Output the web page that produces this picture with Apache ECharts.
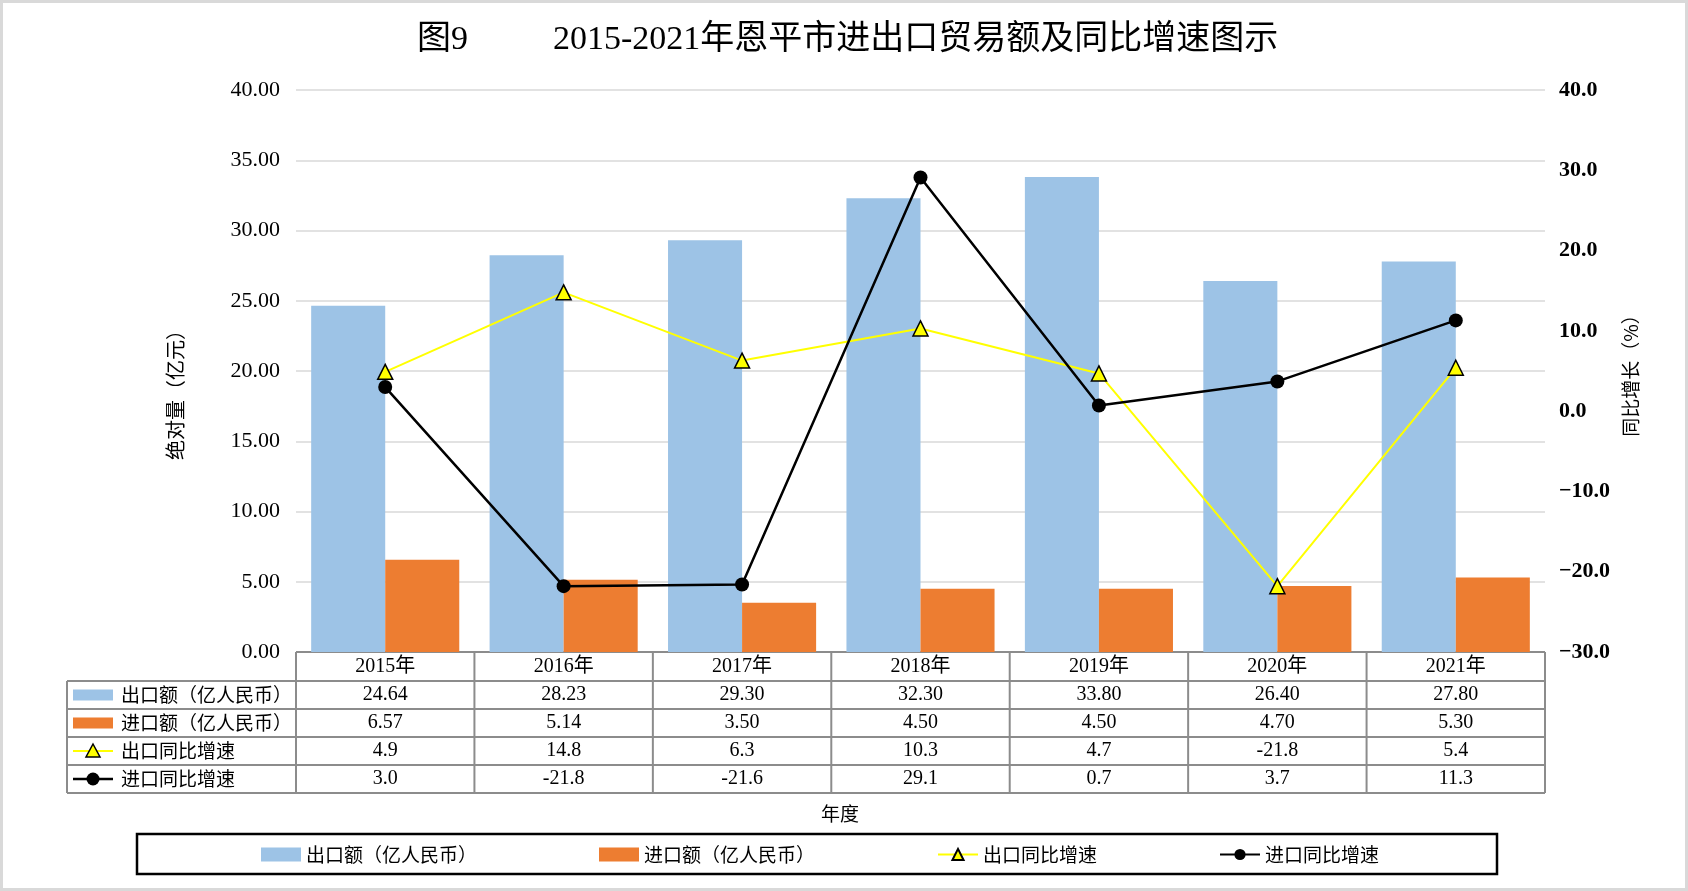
<!DOCTYPE html>
<html>
<head>
<meta charset="utf-8">
<title>2015-2021年恩平市进出口贸易额及同比增速图示</title>
<script src="https://cdn.jsdelivr.net/npm/echarts@6/dist/echarts.min.js"></script>
<style>
  html, body { margin: 0; padding: 0; background: #fff; }
  #main { width: 1688px; height: 891px; }
</style>
</head>
<body>
<div id="main"></div>
<script>
// data
var years = ['2015年', '2016年', '2017年', '2018年', '2019年', '2020年', '2021年'];
var exportAmount = [24.64, 28.23, 29.30, 32.30, 33.80, 26.40, 27.80];
var importAmount = [6.57, 5.14, 3.50, 4.50, 4.50, 4.70, 5.30];
var exportGrowth = [4.9, 14.8, 6.3, 10.3, 4.7, -21.8, 5.4];
var importGrowth = [3.0, -21.8, -21.6, 29.1, 0.7, 3.7, 11.3];
var seriesNames = ['出口额（亿人民币）', '进口额（亿人民币）', '出口同比增速', '进口同比增速'];

var BLUE = '#9DC3E6', ORANGE = '#ED7D31', YELLOW = '#FFFF00', BLACK = '#000000';
var CJK = '"Noto Sans CJK SC"';
var NUM = '"Liberation Serif", "Noto Sans CJK SC"';
var TABLE_LINE = '#8c8c8c';

var chart = echarts.init(document.getElementById('main'));

var option = {
  backgroundColor: '#fff',
  animation: false,
  title: [
    { text: '图9', left: 412, top: 18, textStyle: { fontFamily: NUM, fontSize: 34, fontWeight: 'normal', color: '#000' } },
    { text: '2015-2021年恩平市进出口贸易额及同比增速图示', left: 548, top: 18, textStyle: { fontFamily: NUM, fontSize: 34, fontWeight: 'normal', color: '#000' } }
  ],
  grid: { left: 296, right: 143, top: 90, bottom: 239 },
  legend: {
    left: 256,
    top: 840,
    itemGap: 122,
    itemWidth: 40,
    itemHeight: 14,
    textStyle: { fontFamily: CJK, fontSize: 19, color: '#000' },
    data: [
      { name: seriesNames[0], icon: 'rect' },
      { name: seriesNames[1], icon: 'rect' },
      { name: seriesNames[2] },
      { name: seriesNames[3] }
    ]
  },
  xAxis: {
    type: 'category',
    data: years,
    axisLine: { show: false },
    axisTick: { show: false },
    axisLabel: { show: false }
  },
  yAxis: [
    {
      type: 'value',
      min: 0, max: 40, interval: 5,
      name: '绝对量（亿元）',
      nameLocation: 'middle',
      nameRotate: 90,
      nameGap: 111,
      nameTextStyle: { fontFamily: CJK, fontSize: 20, color: '#000', padding: [0, 38, 0, 0] },
      axisLine: { show: false },
      axisTick: { show: false },
      axisLabel: {
        margin: 16,
        fontFamily: NUM, fontSize: 22, color: '#000',
        formatter: function (v) { return v.toFixed(2); }
      },
      splitLine: { lineStyle: { color: '#d9d9d9', width: 1.5 } }
    },
    {
      type: 'value',
      min: -30, max: 40, interval: 10,
      alignTicks: false,
      name: '同比增长（%）',
      nameLocation: 'middle',
      nameRotate: 90,
      nameGap: 76,
      nameTextStyle: { fontFamily: CJK, fontSize: 19, color: '#000' },
      axisLine: { show: false },
      axisTick: { show: false },
      axisLabel: {
        margin: 14,
        fontFamily: NUM, fontSize: 22, fontWeight: 'bold', color: '#000',
        formatter: function (v) { return v.toFixed(1).replace('-', '−'); }
      },
      splitLine: { show: false }
    }
  ],
  series: [
    {
      name: seriesNames[0], type: 'bar', data: exportAmount,
      barGap: 0, barCategoryGap: '17%',
      itemStyle: { color: BLUE }
    },
    {
      name: seriesNames[1], type: 'bar', data: importAmount,
      barGap: 0, barCategoryGap: '17%',
      itemStyle: { color: ORANGE }
    },
    {
      name: seriesNames[2], type: 'line', yAxisIndex: 1, data: exportGrowth,
      symbol: 'triangle', symbolSize: 15,
      lineStyle: { color: YELLOW, width: 2 },
      itemStyle: { color: YELLOW, borderColor: BLACK, borderWidth: 1.5 },
      z: 5
    },
    {
      name: seriesNames[3], type: 'line', yAxisIndex: 1, data: importGrowth,
      symbol: 'circle', symbolSize: 14,
      lineStyle: { color: BLACK, width: 2.5 },
      itemStyle: { color: BLACK },
      z: 6
    }
  ]
};

chart.setOption(option);

// data table under the plot, laid out from the category axis
function buildTable() {
  var p0 = chart.convertToPixel({ xAxisIndex: 0 }, years[0]);
  var p1 = chart.convertToPixel({ xAxisIndex: 0 }, years[1]);
  var step = p1 - p0;
  var left = p0 - step / 2;
  var right = left + step * years.length;
  var top = chart.convertToPixel({ yAxisIndex: 0 }, 0);
  var labelLeft = 67;
  var rowY = [top, top + 29];
  for (var r = 0; r < 4; r++) rowY.push(rowY[rowY.length - 1] + 28);
  var bottom = rowY[rowY.length - 1];

  var els = [];
  function hline(x1, x2, y) {
    els.push({ type: 'line', shape: { x1: x1, y1: y, x2: x2, y2: y }, style: { stroke: TABLE_LINE, lineWidth: 2 } });
  }
  function vline(x, y1, y2) {
    els.push({ type: 'line', shape: { x1: x, y1: y1, x2: x, y2: y2 }, style: { stroke: TABLE_LINE, lineWidth: 2 } });
  }
  function text(t, x, y, align, font, size) {
    els.push({ type: 'text', x: x, y: y, style: { text: t, align: align, verticalAlign: 'middle', fontFamily: font, fontSize: size, fill: '#000' } });
  }

  hline(left, right, rowY[0]);
  for (var i = 1; i < rowY.length; i++) hline(labelLeft, right, rowY[i]);
  vline(labelLeft, rowY[1], bottom);
  for (var c = 0; c <= years.length; c++) vline(left + c * step, rowY[0], bottom);

  var rows = [
    exportAmount.map(function (v) { return v.toFixed(2); }),
    importAmount.map(function (v) { return v.toFixed(2); }),
    exportGrowth.map(function (v) { return v.toFixed(1); }),
    importGrowth.map(function (v) { return v.toFixed(1); })
  ];

  years.forEach(function (y, k) {
    var cx = chart.convertToPixel({ xAxisIndex: 0 }, y);
    text(y, cx, (rowY[0] + rowY[1]) / 2, 'center', NUM, 20);
    rows.forEach(function (row, j) {
      text(row[k], cx, (rowY[j + 1] + rowY[j + 2]) / 2, 'center', NUM, 20);
    });
  });

  rows.forEach(function (row, j) {
    var cy = (rowY[j + 1] + rowY[j + 2]) / 2;
    if (j === 0 || j === 1) {
      els.push({ type: 'rect', shape: { x: 73, y: cy - 5.5, width: 40, height: 11 }, style: { fill: j === 0 ? BLUE : ORANGE } });
    } else if (j === 2) {
      els.push({ type: 'line', shape: { x1: 73, y1: cy, x2: 113, y2: cy }, style: { stroke: YELLOW, lineWidth: 2 } });
      els.push({ type: 'polygon', shape: { points: [[93, cy - 7], [100, cy + 6], [86, cy + 6]] }, style: { fill: YELLOW, stroke: BLACK, lineWidth: 1.5 } });
    } else {
      els.push({ type: 'line', shape: { x1: 73, y1: cy, x2: 113, y2: cy }, style: { stroke: BLACK, lineWidth: 2.5 } });
      els.push({ type: 'circle', shape: { cx: 93, cy: cy, r: 6.5 }, style: { fill: BLACK } });
    }
    text(seriesNames[j], 121, cy, 'left', CJK, 19);
  });

  // axis title under the table
  text('年度', 840, 814, 'center', CJK, 19);

  // legend frame and outer frame
  els.push({ type: 'rect', shape: { x: 137, y: 834, width: 1360, height: 40 }, style: { fill: 'none', stroke: BLACK, lineWidth: 2.5 } });
  els.push({ type: 'rect', shape: { x: 1.5, y: 1.5, width: 1685, height: 888 }, style: { fill: 'none', stroke: '#d9d9d9', lineWidth: 3 } });

  chart.setOption({ graphic: { elements: els } });
}

buildTable();
</script>
</body>
</html>
